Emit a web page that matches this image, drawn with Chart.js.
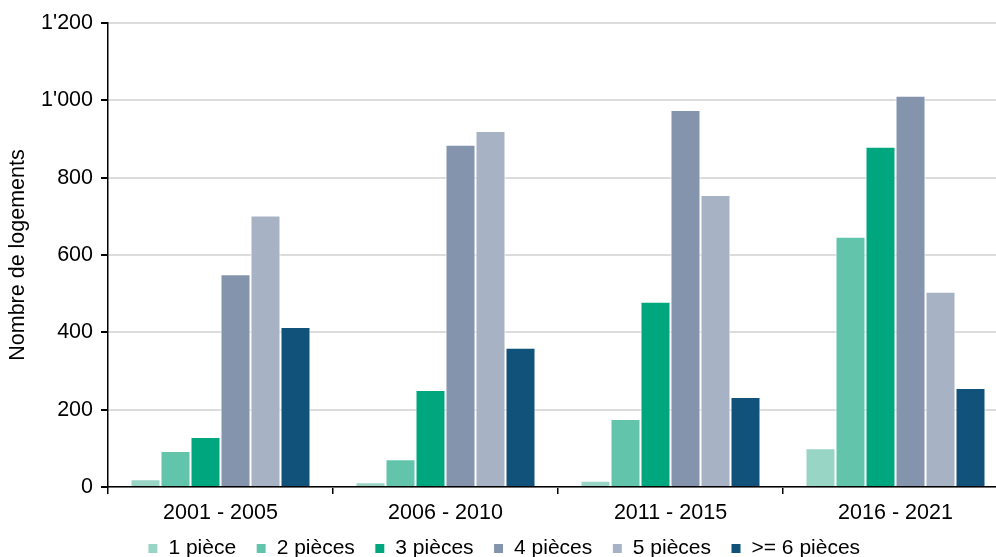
<!DOCTYPE html>
<html>
<head>
<meta charset="utf-8">
<script src="https://cdn.jsdelivr.net/npm/chart.js@4/dist/chart.umd.min.js"></script>
<style>
html,body{margin:0;padding:0;background:#fff;overflow:hidden;}
#wrap{width:1012px;height:557px;position:relative;}
</style>
</head>
<body>
<div id="wrap"><canvas id="c"></canvas></div>
<script>
const categories = ['2001 - 2005', '2006 - 2010', '2011 - 2015', '2016 - 2021'];
const seriesNames = ['1 pièce', '2 pièces', '3 pièces', '4 pièces', '5 pièces', '>= 6 pièces'];
const piece1 = [20, 12, 16, 100];
const piece2 = [93, 72, 176, 647];
const piece3 = [129, 251, 479, 880];
const piece4 = [550, 885, 975, 1012];
const piece5 = [702, 921, 755, 505];
const piece6 = [414, 360, 233, 256];
const yTicks = [0, 200, 400, 600, 800, 1000, 1200];
const colors = ['#99D5C5', '#63C4AC', '#00A67E', '#8594AD', '#A7B2C4', '#10527A'];

const values = [piece1, piece2, piece3, piece4, piece5, piece6];
const fmt = v => String(v).replace(/\B(?=(\d{3})+(?!\d))/g, "'");
const FONT = 'Liberation Sans, Arial, sans-serif';
const FS = 21.5;
const LFS = 21;

const noLabelClip = {
  id: 'noLabelClip',
  afterLayout(chart) {
    const x = chart.scales.x;
    if (x) x._computeLabelArea = () => undefined;
  }
};

new Chart(document.getElementById('c'), {
  type: 'bar',
  data: {
    labels: categories,
    datasets: seriesNames.map((n, i) => ({
      label: n,
      data: values[i],
      backgroundColor: colors[i],
      borderColor: '#ffffff',
      borderWidth: 1,
      categoryPercentage: 0.8,
      barPercentage: 1.0
    }))
  },
  plugins: [noLabelClip],
  options: {
    responsive: true,
    maintainAspectRatio: false,
    animation: false,
    layout: { padding: { left: 0, right: 4, top: 23, bottom: -12 } },
    plugins: {
      tooltip: { enabled: false },
      legend: {
        position: 'bottom',
        labels: {
          font: { family: FONT, size: LFS },
          color: '#000',
          boxWidth: 10,
          boxHeight: 10,
          padding: 20
        }
      }
    },
    scales: {
      x: {
        offset: true,
        grid: { offset: true, drawOnChartArea: false, color: '#000', tickColor: '#000', tickLength: 7, lineWidth: 1.5 },
        border: { color: '#000', width: 1.5 },
        ticks: { font: { family: FONT, size: FS }, color: '#000', padding: 6 },
        afterFit: s => { s.height = 31; }
      },
      y: {
        min: 0,
        max: 1200,
        afterBuildTicks: s => { s.ticks = yTicks.map(v => ({ value: v })); },
        grid: {
          color: '#DCDCDC',
          lineWidth: 2,
          tickColor: '#000',
          tickLength: 7
        },
        border: { color: '#000', width: 1.5 },
        ticks: { font: { family: FONT, size: FS }, color: '#000', padding: 8, callback: v => fmt(v) },
        title: { display: true, text: 'Nombre de logements', font: { family: FONT, size: FS }, color: '#000', padding: { top: 5, bottom: 0 } },
        afterFit: s => { s.width = 108; }
      }
    }
  }
});
</script>
</body>
</html>
